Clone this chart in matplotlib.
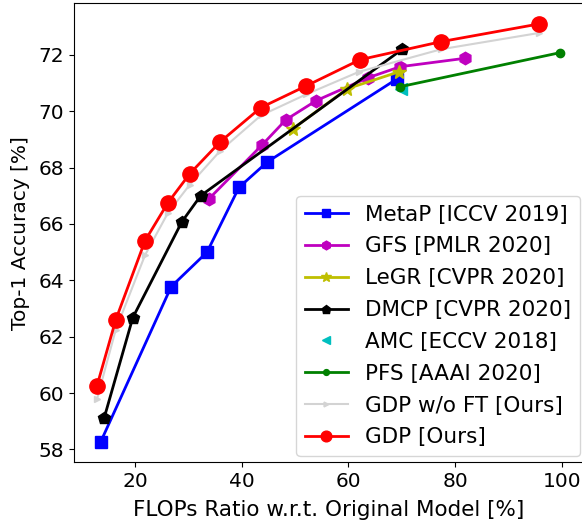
import matplotlib
matplotlib.use('Agg')
import matplotlib.pyplot as plt

# FLOPs ratio (%) / top-1 accuracy (%)
metap_x = [13.6, 26.8, 33.5, 39.5, 44.8, 69.2]
metap_y = [58.28, 63.78, 65.0, 67.3, 68.2, 71.16]

gfs_x = [33.9, 43.8, 48.3, 54.0, 63.7, 69.7, 81.9]
gfs_y = [66.9, 68.8, 69.7, 70.38, 71.19, 71.58, 71.88]

legr_x = [49.6, 59.8, 69.5]
legr_y = [69.38, 70.8, 71.4]

dmcp_x = [14.2, 19.6, 28.8, 32.3, 70.1]
dmcp_y = [59.1, 62.68, 66.08, 67.0, 72.2]

amc_x = [69.9]
amc_y = [70.8]

pfs_x = [69.7, 99.7]
pfs_y = [70.87, 72.08]

gdp_noft_x = [12.9, 16.4, 21.9, 26.2, 30.3, 36.0, 43.6, 52.1, 62.0, 77.4, 95.8]
gdp_noft_y = [59.8, 62.25, 64.9, 66.4, 67.4, 68.6, 69.85, 70.6, 71.4, 72.2, 72.78]

gdp_x = [12.9, 16.4, 21.9, 26.2, 30.3, 36.0, 43.6, 52.1, 62.2, 77.4, 95.8]
gdp_y = [60.27, 62.6, 65.41, 66.76, 67.79, 68.92, 70.13, 70.9, 71.83, 72.47, 73.1]

fig = plt.figure(figsize=(5.82, 5.23), dpi=100)
# right spine sits just past the image edge in the reference
ax = fig.add_axes([0.127, 0.1157, 0.8754, 0.8786])

ax.plot(metap_x, metap_y, 'bs-', lw=2, ms=9, label='MetaP [ICCV 2019]')
ax.plot(gfs_x, gfs_y, 'mh-', lw=2, ms=9, label='GFS [PMLR 2020]')
ax.plot(legr_x, legr_y, 'y*-', lw=2, ms=10, label='LeGR [CVPR 2020]')
ax.plot(dmcp_x, dmcp_y, 'kp-', lw=2, ms=9, label='DMCP [CVPR 2020]')
ax.plot(amc_x, amc_y, 'c<', ms=9, label='AMC [ECCV 2018]')
ax.plot(pfs_x, pfs_y, 'go-', lw=2, ms=6, label='PFS [AAAI 2020]')
ax.plot(gdp_noft_x, gdp_noft_y, '>-', color='lightgray', lw=1.5, ms=5, label='GDP w/o FT [Ours]')
ax.plot(gdp_x, gdp_y, 'ro-', lw=2, ms=11, label='GDP [Ours]')

ax.set_xticks([20, 40, 60, 80, 100])
ax.set_yticks([58, 60, 62, 64, 66, 68, 70, 72])
ax.tick_params(labelsize=14.5)
ax.set_xlabel('FLOPs Ratio w.r.t. Original Model [%]', fontsize=15.5, labelpad=6)
ax.set_ylabel('Top-1 Accuracy [%]', fontsize=14.5, labelpad=6)
ax.legend(loc='lower right', fontsize=15.5, borderaxespad=0, markerscale=0.7,
          labelspacing=0.55, bbox_to_anchor=(0.993, 0.014))

plt.savefig('out.png', dpi=100)
